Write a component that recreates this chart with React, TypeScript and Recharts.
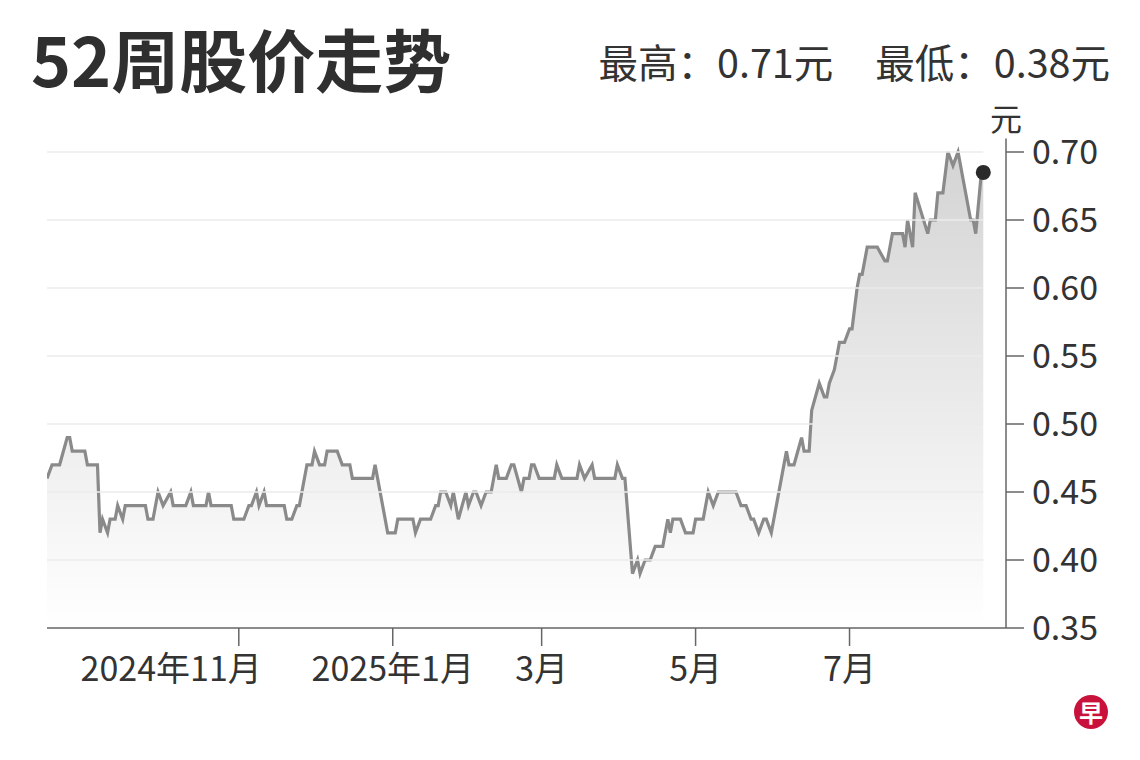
import React from "react";
import { AreaChart, Area, XAxis, YAxis, ReferenceDot, ReferenceLine } from "recharts";

const FONT = "'Noto Sans CJK SC', 'Noto Sans', sans-serif";

const titleText = "52周股价走势";
const highText = "最高：0.71元";
const lowText = "最低：0.38元";
const unitText = "元";

const dates = [
  "2024-08-17", "2024-08-19", "2024-08-22", "2024-08-25", "2024-08-26", "2024-08-27",
  "2024-09-01", "2024-09-02", "2024-09-06", "2024-09-07", "2024-09-08", "2024-09-10",
  "2024-09-11", "2024-09-13", "2024-09-14", "2024-09-16", "2024-09-17", "2024-09-25",
  "2024-09-26", "2024-09-28", "2024-09-30", "2024-10-02", "2024-10-05", "2024-10-06",
  "2024-10-11", "2024-10-13", "2024-10-14", "2024-10-19", "2024-10-20", "2024-10-21",
  "2024-10-29", "2024-10-30", "2024-11-03", "2024-11-05", "2024-11-06", "2024-11-08",
  "2024-11-09", "2024-11-11", "2024-11-12", "2024-11-19", "2024-11-20", "2024-11-22",
  "2024-11-24", "2024-11-25", "2024-11-28", "2024-11-30", "2024-12-01", "2024-12-03",
  "2024-12-05", "2024-12-06", "2024-12-10", "2024-12-12", "2024-12-15", "2024-12-16",
  "2024-12-24", "2024-12-25", "2024-12-26", "2024-12-30", "2025-01-02", "2025-01-03",
  "2025-01-09", "2025-01-10", "2025-01-12", "2025-01-16", "2025-01-18", "2025-01-19",
  "2025-01-20", "2025-01-22", "2025-01-24", "2025-01-25", "2025-01-27", "2025-01-30",
  "2025-01-31", "2025-02-02", "2025-02-03", "2025-02-05", "2025-02-07", "2025-02-09",
  "2025-02-11", "2025-02-12", "2025-02-15", "2025-02-17", "2025-02-18", "2025-02-21",
  "2025-02-22", "2025-02-24", "2025-02-25", "2025-02-26", "2025-02-28", "2025-03-06",
  "2025-03-07", "2025-03-09", "2025-03-15", "2025-03-16", "2025-03-18", "2025-03-21",
  "2025-03-22", "2025-03-30", "2025-03-31", "2025-04-02", "2025-04-03", "2025-04-06",
  "2025-04-08", "2025-04-09", "2025-04-11", "2025-04-13", "2025-04-15", "2025-04-18",
  "2025-04-20", "2025-04-21", "2025-04-22", "2025-04-25", "2025-04-27", "2025-04-30",
  "2025-05-01", "2025-05-04", "2025-05-06", "2025-05-08", "2025-05-10", "2025-05-17",
  "2025-05-19", "2025-05-21", "2025-05-23", "2025-05-24", "2025-05-26", "2025-05-28",
  "2025-05-29", "2025-05-31", "2025-06-02", "2025-06-04", "2025-06-06", "2025-06-07",
  "2025-06-09", "2025-06-12", "2025-06-13", "2025-06-15", "2025-06-16", "2025-06-19",
  "2025-06-21", "2025-06-22", "2025-06-23", "2025-06-25", "2025-06-26", "2025-06-27",
  "2025-06-29", "2025-07-01", "2025-07-02", "2025-07-04", "2025-07-05", "2025-07-06",
  "2025-07-08", "2025-07-12", "2025-07-15", "2025-07-16", "2025-07-18", "2025-07-22",
  "2025-07-23", "2025-07-24", "2025-07-26", "2025-07-27", "2025-08-01", "2025-08-02",
  "2025-08-04", "2025-08-05", "2025-08-07", "2025-08-09", "2025-08-11", "2025-08-13",
  "2025-08-15", "2025-08-18", "2025-08-19", "2025-08-20", "2025-08-22", "2025-08-23",
];

const prices = [
  0.46, 0.47, 0.47, 0.49, 0.49, 0.48,
  0.48, 0.47, 0.47, 0.42, 0.43, 0.42,
  0.43, 0.43, 0.44, 0.43, 0.44, 0.44,
  0.43, 0.43, 0.45, 0.44, 0.45, 0.44,
  0.44, 0.45, 0.44, 0.44, 0.45, 0.44,
  0.44, 0.43, 0.43, 0.44, 0.44, 0.45,
  0.44, 0.45, 0.44, 0.44, 0.43, 0.43,
  0.44, 0.44, 0.47, 0.47, 0.48, 0.47,
  0.47, 0.48, 0.48, 0.47, 0.47, 0.46,
  0.46, 0.47, 0.46, 0.42, 0.42, 0.43,
  0.43, 0.42, 0.43, 0.43, 0.44, 0.44,
  0.45, 0.45, 0.44, 0.45, 0.43, 0.45,
  0.44, 0.45, 0.45, 0.44, 0.45, 0.45,
  0.47, 0.46, 0.46, 0.47, 0.47, 0.45,
  0.46, 0.46, 0.47, 0.47, 0.46, 0.46,
  0.47, 0.46, 0.46, 0.47, 0.46, 0.47,
  0.46, 0.46, 0.47, 0.46, 0.46, 0.39,
  0.40, 0.39, 0.40, 0.40, 0.41, 0.41,
  0.43, 0.42, 0.43, 0.43, 0.42, 0.42,
  0.43, 0.43, 0.45, 0.44, 0.45, 0.45,
  0.44, 0.44, 0.43, 0.43, 0.42, 0.43,
  0.43, 0.42, 0.44, 0.46, 0.48, 0.47,
  0.47, 0.49, 0.48, 0.48, 0.51, 0.53,
  0.52, 0.52, 0.53, 0.54, 0.55, 0.56,
  0.56, 0.57, 0.57, 0.60, 0.61, 0.61,
  0.63, 0.63, 0.62, 0.62, 0.64, 0.64,
  0.63, 0.65, 0.63, 0.67, 0.64, 0.65,
  0.65, 0.67, 0.67, 0.70, 0.69, 0.70,
  0.68, 0.65, 0.65, 0.64, 0.68, 0.685,
];

const xTickDates = ["2024-11-01", "2025-01-01", "2025-03-01", "2025-05-01", "2025-07-01"];
const xTickLabels = ["2024年11月", "2025年1月", "3月", "5月", "7月"];
const xDomainDates = ["2024-08-17", "2025-09-01"];
const yTicks = [0.35, 0.4, 0.45, 0.5, 0.55, 0.6, 0.65, 0.7];
const gridValues = [0.4, 0.45, 0.5, 0.55, 0.6, 0.65, 0.7];
const yDomain = [0.35, 0.71];

const toT = (d: string) => Date.parse(d + "T00:00:00Z");
const data = dates.map((d, i) => ({ t: toT(d), price: prices[i] }));
const xTicks = xTickDates.map(toT);
const xDomain = xDomainDates.map(toT);
const first = data[0];
const last = data[data.length - 1];

const XTick = (props: any) => {
  const { x, y, payload } = props;
  const i = xTicks.indexOf(payload.value);
  const label = i >= 0 ? xTickLabels[i] : "";
  const isFirst = i === 0;
  return (
    <text
      x={isFirst ? x + 23 : x}
      y={y}
      dy="0.71em"
      textAnchor={isFirst ? "end" : "middle"}
      fill="#333333"
      fontSize={34}
      fontFamily={FONT}
    >
      {label}
    </text>
  );
};

export default function App() {
  return (
    <div
      style={{
        position: "absolute",
        left: 0,
        top: 0,
        width: 1140,
        height: 760,
        background: "#ffffff",
        fontFamily: FONT,
        color: "#333333",
        overflow: "hidden",
      }}
    >
      <div
        style={{
          position: "absolute",
          left: 31,
          top: 24,
          fontSize: 68,
          lineHeight: 1,
          fontWeight: 700,
          color: "#2f2f2f",
          whiteSpace: "nowrap",
        }}
      >
        {titleText}
      </div>
      <div
        style={{
          position: "absolute",
          right: 30,
          top: 41,
          fontSize: 39.5,
          lineHeight: 1,
          color: "#333333",
          whiteSpace: "nowrap",
          display: "flex",
          gap: 42,
        }}
      >
        <span>{highText}</span>
        <span>{lowText}</span>
      </div>
      <div
        style={{
          position: "absolute",
          left: 990,
          top: 101,
          fontSize: 32,
          lineHeight: 1,
          color: "#333333",
        }}
      >
        {unitText}
      </div>

      <div style={{ position: "absolute", left: 0, top: 0 }}>
        <AreaChart
          width={1140}
          height={760}
          data={data}
          margin={{ top: 138.4, right: 34, bottom: 72, left: 47 }}
        >
          <defs>
            <linearGradient id="priceFill" x1="0" y1="0" x2="0" y2="1">
              <stop offset="0%" stopColor="#000000" stopOpacity={0.17} />
              <stop offset="100%" stopColor="#000000" stopOpacity={0} />
            </linearGradient>
          </defs>
          <XAxis
            dataKey="t"
            type="number"
            domain={xDomain}
            ticks={xTicks}
            interval={0}
            allowDataOverflow
            height={60}
            tickSize={18}
            tickMargin={11}
            axisLine={{ stroke: "#666666", strokeWidth: 1.5 }}
            tickLine={{ stroke: "#666666", strokeWidth: 1.5 }}
            tick={<XTick />}
          />
          <YAxis
            orientation="right"
            type="number"
            domain={yDomain}
            ticks={yTicks}
            interval={0}
            allowDataOverflow
            width={100}
            tickSize={18}
            tickMargin={8}
            tickFormatter={(v: number) => v.toFixed(2)}
            axisLine={{ stroke: "#666666", strokeWidth: 1.5 }}
            tickLine={{ stroke: "#666666", strokeWidth: 1.5 }}
            tick={{ fill: "#333333", fontSize: 34, fontFamily: FONT }}
          />
          {gridValues.map((v) => (
            <ReferenceLine
              key={v}
              segment={[
                { x: first.t, y: v },
                { x: last.t, y: v },
              ]}
              stroke="#ebebeb"
              strokeWidth={1.5}
            />
          ))}
          <Area
            type="linear"
            dataKey="price"
            stroke="#8a8a8a"
            strokeWidth={3.2}
            fill="url(#priceFill)"
            fillOpacity={1}
            dot={false}
            activeDot={false}
            isAnimationActive={false}
          />
          <ReferenceDot
            x={last.t}
            y={last.price}
            r={7.5}
            fill="#2a2a2a"
            stroke="none"
          />
        </AreaChart>
      </div>

      <div
        style={{
          position: "absolute",
          left: 1074,
          top: 695,
          width: 34,
          height: 34,
          borderRadius: "50%",
          background: "#c8123c",
          color: "#ffffff",
          fontSize: 24,
          fontWeight: 700,
          lineHeight: "34px",
          textAlign: "center",
        }}
      >
        早
      </div>
    </div>
  );
}
